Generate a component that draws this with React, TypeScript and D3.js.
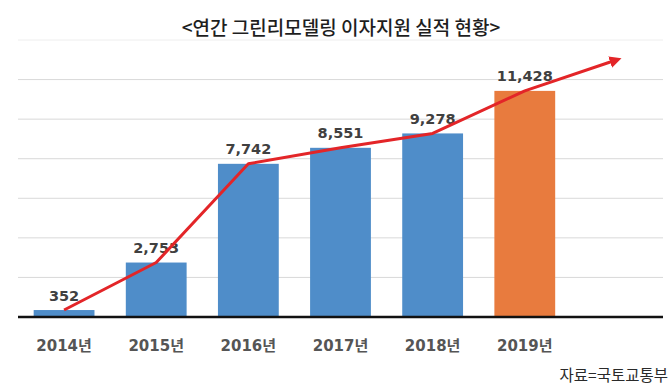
import React from 'react';
import * as d3 from 'd3';

// 연간 그린리모델링 이자지원 실적 (건)
const years = ['2014년', '2015년', '2016년', '2017년', '2018년', '2019년'];
const counts = [352, 2753, 7742, 8551, 9278, 11428];
// the red trend arrow runs on past the last bar into an empty slot
const trendSlot = 'next';
const trendEnd = 13000;
const gridTicks = [2000, 4000, 6000, 8000, 10000, 12000, 14000];

const width = 671;
const height = 392;

const App: React.FC = () => {
  const x = d3.scaleBand<string>()
    .domain([...years, trendSlot])
    .range([18, 663])
    .paddingInner(0.34)
    .paddingOuter(0.17);

  const y = d3.scaleLinear()
    .domain([0, 14000])
    .range([317, 40]);

  const cx = (k: string) => (x(k) ?? 0) + x.bandwidth() / 2;

  const trendPts: [number, number][] = years.map((yr, i) => [cx(yr), y(counts[i])]);
  trendPts.push([cx(trendSlot), y(trendEnd)]);
  const trendLine = d3.line()(trendPts) ?? '';

  const numFont = '"DejaVu Sans", "Noto Sans CJK KR", sans-serif';
  const korFont = '"Noto Sans CJK KR", sans-serif';

  return (
    <svg
      width={width}
      height={height}
      style={{ position: 'absolute', left: 0, top: 0, background: '#fff' }}
    >
      <defs>
        <marker id="arrow" viewBox="0 0 10 10" refX="6" refY="5"
          markerWidth="4" markerHeight="4" orient="auto">
          <path d="M0,0 L10,5 L0,10 z" fill="#e32528" />
        </marker>
      </defs>

      <text x={341} y={35} textAnchor="middle" fontFamily={korFont}
        fontSize={19} fontWeight={500} fill="#1e1e1e">
        {'<연간 그린리모델링 이자지원 실적 현황>'}
      </text>

      {/* gridlines */}
      {gridTicks.map(t => (
        <line key={t} x1={18} x2={663} y1={y(t)} y2={y(t)}
          stroke={t === 14000 ? '#eeeeee' : '#d9d9d9'} strokeWidth={1} />
      ))}

      {/* bars */}
      {years.map((yr, i) => (
        <rect key={yr}
          x={x(yr)} width={x.bandwidth()}
          y={y(counts[i])} height={y(0) - y(counts[i])}
          fill={i === years.length - 1 ? '#e87b3e' : '#4f8dc9'} />
      ))}

      {/* value labels */}
      {years.map((yr, i) => (
        <text key={yr} x={cx(yr)} y={y(counts[i]) - 9.5} textAnchor="middle"
          fontFamily={numFont} fontWeight="bold" fontSize={14.5} fill="#404040">
          {d3.format(',')(counts[i])}
        </text>
      ))}

      {/* baseline */}
      <line x1={18} x2={663} y1={y(0)} y2={y(0)} stroke="#111" strokeWidth={2.5} />

      {/* trend line */}
      <path d={trendLine} fill="none" stroke="#e32528" strokeWidth={3}
        strokeLinejoin="round" markerEnd="url(#arrow)" />

      {/* x axis labels */}
      {years.map(yr => (
        <text key={yr} x={cx(yr)} y={351} textAnchor="middle"
          fontFamily={numFont} fontWeight="bold" fontSize={15} fill="#555">
          {yr}
        </text>
      ))}

      <text x={668} y={381} textAnchor="end" fontFamily={korFont}
        fontSize={15.5} fill="#2a2a2a">
        자료=국토교통부
      </text>
    </svg>
  );
};

export default App;
